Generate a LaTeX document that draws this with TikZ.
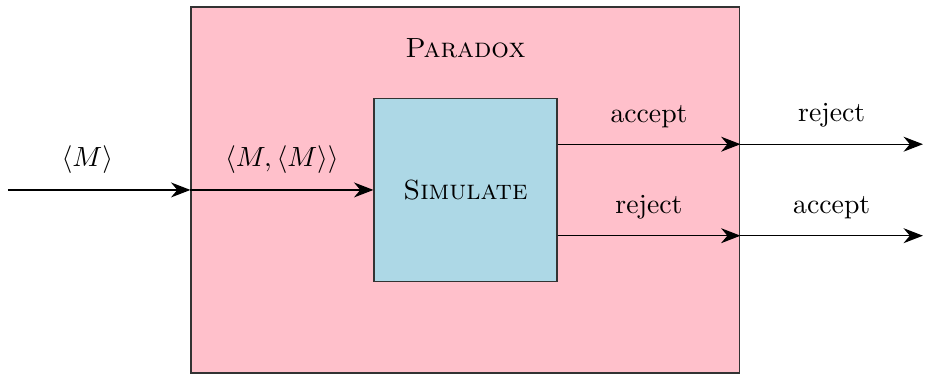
\documentclass[tikz,border=0pt]{standalone}
\usepackage{amsmath}
\usetikzlibrary{arrows.meta}
\definecolor{pinkbg}{RGB}{255,192,203}
\definecolor{bluebg}{RGB}{173,216,230}
\begin{document}
\begin{tikzpicture}[x=1.16cm, y=1.16cm, >={Stealth[length=7pt,width=5.4pt]},
    box/.style={draw=black!80, rectangle, inner sep=0pt},
    lbl/.style={above=2.5pt}]
  \useasboundingbox (-0.087,-0.066) rectangle (10.11,4.076);
  % ========== boxes ==========
  \node[box, fill=pinkbg, minimum width=6.96cm, minimum height=4.64cm] (paradox) at (5,2) {};
  \node (title) at (5,3.55) {\textsc{Paradox}};
  \node[box, fill=bluebg, minimum width=2.32cm, minimum height=2.32cm] (sim) at (5,2) {\textsc{Simulate}};

  % ========== input ==========
  \coordinate (in) at (0,2);
  \draw[->] (in) -- (paradox.west) node[pos=0.435,lbl] {$\langle M\rangle$};
  \draw[->] (paradox.west) -- (sim.west) node[midway,lbl] {$\langle M,\langle M\rangle\rangle$};

  % ========== outputs ==========
  \coordinate (outA) at (10,2.5);
  \coordinate (outR) at (10,1.5);
  \draw[->] (sim.east |- outA) -- (paradox.east |- outA) node[midway,lbl] {accept};
  \draw[->] (paradox.east |- outA) -- (outA) node[midway,lbl] {reject};
  \draw[->] (sim.east |- outR) -- (paradox.east |- outR) node[midway,lbl] {reject};
  \draw[->] (paradox.east |- outR) -- (outR) node[midway,lbl] {accept};
\end{tikzpicture}
\end{document}
